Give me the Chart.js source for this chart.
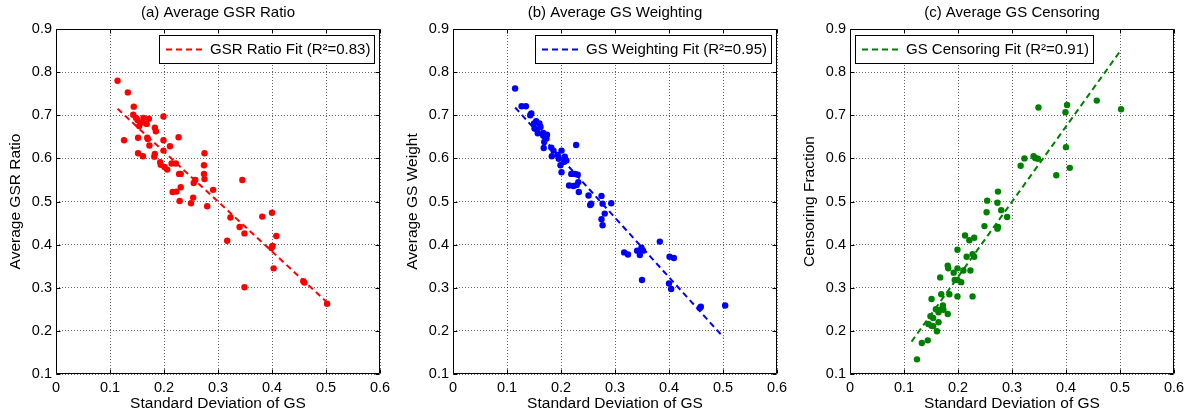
<!DOCTYPE html>
<html><head><meta charset="utf-8">
<script src="https://cdn.jsdelivr.net/npm/chart.js@4.4.0/dist/chart.umd.min.js"></script>
<style>
html,body{margin:0;padding:0;background:#fff;overflow:hidden;}
.p{position:absolute;top:0;width:396px;height:414px;}
</style></head><body>
<div class="p" style="left:0px"><canvas id="ca" width="396" height="414"></canvas></div>
<div class="p" style="left:397px"><canvas id="cb" width="396" height="414"></canvas></div>
<div class="p" style="left:794px"><canvas id="cc" width="396" height="414"></canvas></div>
<script>
// ---- data ----
const titles = ['(a) Average GSR Ratio', '(b) Average GS Weighting', '(c) Average GS Censoring'];
const yLabels = ['Average GSR Ratio', 'Average GS Weight', 'Censoring Fraction'];
const xLabel = 'Standard Deviation of GS';
const fitLabels = ['GSR Ratio Fit (R\u00B2=0.83)', 'GS Weighting Fit (R\u00B2=0.95)', 'GS Censoring Fit (R\u00B2=0.91)'];
const xTickValues = [0, 0.1, 0.2, 0.3, 0.4, 0.5, 0.6];
const yTickValues = [0.1, 0.2, 0.3, 0.4, 0.5, 0.6, 0.7, 0.8, 0.9];

const gsrX = [0.114,0.133,0.144,0.143,0.148,0.151,0.154,0.162,0.172,0.168,0.160,0.183,0.185,0.199,0.126,0.152,0.169,0.170,0.173,0.199,0.199,0.211,0.227,0.152,0.161,0.183,0.182,0.193,0.194,0.201,0.206,0.214,0.222,0.228,0.231,0.275,0.274,0.274,0.275,0.345,0.255,0.258,0.231,0.223,0.216,0.291,0.254,0.229,0.250,0.280,0.323,0.382,0.400,0.340,0.349,0.317,0.408,0.401,0.399,0.403,0.458,0.460,0.349,0.502];
const gsrY = [0.780,0.753,0.720,0.701,0.694,0.689,0.675,0.694,0.692,0.680,0.683,0.671,0.663,0.697,0.642,0.648,0.648,0.645,0.630,0.642,0.618,0.628,0.649,0.612,0.605,0.610,0.604,0.591,0.585,0.580,0.574,0.588,0.588,0.564,0.564,0.612,0.584,0.564,0.552,0.550,0.543,0.550,0.533,0.523,0.522,0.527,0.509,0.501,0.496,0.489,0.463,0.465,0.474,0.441,0.426,0.409,0.420,0.397,0.392,0.345,0.315,0.312,0.301,0.263];
const gsrFitX = [0.114, 0.502];
const gsrFitY = [0.715, 0.266];

const wX = [0.115,0.127,0.135,0.143,0.145,0.150,0.154,0.151,0.156,0.160,0.162,0.157,0.167,0.167,0.174,0.173,0.169,0.168,0.182,0.186,0.183,0.201,0.194,0.196,0.207,0.210,0.206,0.199,0.201,0.228,0.219,0.226,0.231,0.232,0.229,0.215,0.223,0.233,0.251,0.275,0.254,0.256,0.277,0.293,0.281,0.275,0.277,0.383,0.317,0.324,0.341,0.349,0.352,0.346,0.350,0.401,0.409,0.400,0.404,0.459,0.457,0.504];
const wY = [0.762,0.721,0.721,0.700,0.704,0.681,0.686,0.669,0.666,0.681,0.673,0.658,0.659,0.653,0.655,0.646,0.638,0.624,0.625,0.618,0.605,0.618,0.608,0.599,0.604,0.595,0.592,0.584,0.568,0.631,0.564,0.564,0.562,0.545,0.538,0.537,0.536,0.522,0.514,0.513,0.492,0.495,0.495,0.496,0.472,0.459,0.445,0.407,0.382,0.377,0.386,0.393,0.386,0.376,0.318,0.372,0.369,0.310,0.297,0.256,0.253,0.259];
const wFitX = [0.115, 0.501];
const wFitY = [0.718, 0.185];

const cX = [0.349,0.402,0.399,0.457,0.502,0.400,0.407,0.382,0.316,0.323,0.340,0.343,0.348,0.254,0.274,0.273,0.280,0.253,0.291,0.249,0.274,0.273,0.213,0.221,0.230,0.199,0.216,0.227,0.230,0.181,0.182,0.199,0.210,0.223,0.192,0.167,0.194,0.199,0.206,0.169,0.184,0.199,0.227,0.151,0.172,0.159,0.167,0.173,0.164,0.181,0.149,0.154,0.145,0.151,0.154,0.164,0.161,0.133,0.144,0.124];
const cY = [0.718,0.724,0.707,0.734,0.714,0.626,0.578,0.561,0.583,0.600,0.605,0.601,0.599,0.502,0.523,0.497,0.480,0.475,0.464,0.443,0.441,0.437,0.421,0.410,0.416,0.388,0.372,0.378,0.372,0.351,0.345,0.345,0.340,0.340,0.335,0.324,0.318,0.318,0.313,0.285,0.285,0.280,0.280,0.274,0.259,0.250,0.249,0.249,0.243,0.239,0.234,0.230,0.216,0.212,0.211,0.220,0.199,0.172,0.178,0.134];
const cFitX = [0.114, 0.501];
const cFitY = [0.175, 0.850];

const colors = ['#ff0000', '#0000ff', '#008000'];
const legendSides = ['right', 'right', 'left'];

const FONT = '"Liberation Sans", Arial, Helvetica, sans-serif';
const pts = (xs, ys) => xs.map((v, i) => ({x: v, y: ys[i]}));

const framePlugin = {
  id: 'frame',
  afterDatasetsDraw(chart, args, opts) {
    const {ctx, chartArea: a, scales: {x, y}} = chart;
    ctx.save();
    ctx.setLineDash([]);
    ctx.strokeStyle = '#000';
    ctx.lineWidth = 1;
    const L = Math.round(a.left) + 0.5, R = Math.round(a.right) - 0.5;
    const T = Math.round(a.top) + 0.5, B = Math.round(a.bottom) - 0.5;
    ctx.beginPath();
    ctx.rect(L, T, R - L, B - T);
    const tl = 4;
    xTickValues.forEach(v => {
      const px = Math.round(x.getPixelForValue(v)) + 0.5;
      ctx.moveTo(px, B); ctx.lineTo(px, B - tl);
      ctx.moveTo(px, T); ctx.lineTo(px, T + tl);
    });
    yTickValues.forEach(v => {
      const py = Math.round(y.getPixelForValue(v)) + 0.5;
      ctx.moveTo(L, py); ctx.lineTo(L + tl, py);
      ctx.moveTo(R, py); ctx.lineTo(R - tl, py);
    });
    ctx.stroke();

    // legend box
    const ds = chart.data.datasets[1];
    ctx.font = '15px ' + FONT;
    const tw = ctx.measureText(ds.label).width;
    const bw = Math.round(51 + tw + 4), bh = 28;
    const bx = opts.side === 'right' ? Math.round(a.right - 6 - bw) : Math.round(a.left + 5);
    const by = Math.round(a.top + 6);
    ctx.fillStyle = '#fff';
    ctx.fillRect(bx, by, bw, bh);
    ctx.strokeStyle = '#000';
    ctx.lineWidth = 1;
    ctx.strokeRect(bx + 0.5, by + 0.5, bw, bh);
    ctx.strokeStyle = ds.borderColor;
    ctx.lineWidth = 2;
    ctx.setLineDash([6, 4]);
    ctx.beginPath();
    ctx.moveTo(bx + 7, by + 14.5);
    ctx.lineTo(bx + 45, by + 14.5);
    ctx.stroke();
    ctx.setLineDash([]);
    ctx.fillStyle = '#000';
    ctx.textBaseline = 'middle';
    ctx.textAlign = 'left';
    ctx.fillText(ds.label, bx + 51, by + 15);
    ctx.restore();
  }
};

function makeChart(id, idx, xs, ys, fx, fy) {
  const col = colors[idx];
  return new Chart(document.getElementById(id), {
    type: 'scatter',
    data: {
      datasets: [
        {label: 'data', data: pts(xs, ys), backgroundColor: col, borderColor: col,
         pointRadius: 3.2, pointBorderWidth: 0, pointHoverRadius: 3.2, showLine: false, order: 2},
        {label: fitLabels[idx], data: pts(fx, fy), borderColor: col, backgroundColor: col,
         showLine: true, pointRadius: 0, borderWidth: 2, borderDash: [6, 4], order: 1}
      ]
    },
    options: {
      responsive: false,
      animation: false,
      events: [],
      layout: {padding: {left: 0, right: 16, top: 0, bottom: 0}},
      plugins: {
        legend: {display: false},
        tooltip: {enabled: false},
        title: {display: true, text: titles[idx], fullSize: false, color: '#000',
                font: {family: FONT, size: 15, weight: 'normal'},
                padding: {top: 3.5, bottom: 7.5}},
        frame: {side: legendSides[idx]}
      },
      scales: {
        x: {
          type: 'linear', min: 0, max: 0.6,
          afterFit: s => { s.height = 40; },
          afterBuildTicks: s => { s.ticks = xTickValues.map(v => ({value: v})); },
          ticks: {color: '#000', font: {family: FONT, size: 14.5}, padding: 5,
                  maxRotation: 0, autoSkip: false, callback: v => String(+v.toFixed(1))},
          grid: {color: 'rgba(0,0,0,0.6)', lineWidth: 1, drawTicks: false},
          border: {display: false, dash: [1, 2]},
          title: {display: true, text: xLabel, color: '#000',
                  font: {family: FONT, size: 15.5}, padding: {top: 0, bottom: 0.5}}
        },
        y: {
          type: 'linear', min: 0.1, max: 0.9,
          afterFit: s => { s.width = 56; },
          afterBuildTicks: s => { s.ticks = yTickValues.map(v => ({value: v})); },
          ticks: {color: '#000', font: {family: FONT, size: 14.5}, padding: 4,
                  autoSkip: false, callback: v => String(+v.toFixed(1))},
          grid: {color: 'rgba(0,0,0,0.6)', lineWidth: 1, drawTicks: false},
          border: {display: false, dash: [1, 2]},
          title: {display: true, text: yLabels[idx], color: '#000',
                  font: {family: FONT, size: 15.5}, padding: {top: 6.5, bottom: 0}}
        }
      }
    },
    plugins: [framePlugin]
  });
}

makeChart('ca', 0, gsrX, gsrY, gsrFitX, gsrFitY);
makeChart('cb', 1, wX, wY, wFitX, wFitY);
makeChart('cc', 2, cX, cY, cFitX, cFitY);
</script>
</body></html>
